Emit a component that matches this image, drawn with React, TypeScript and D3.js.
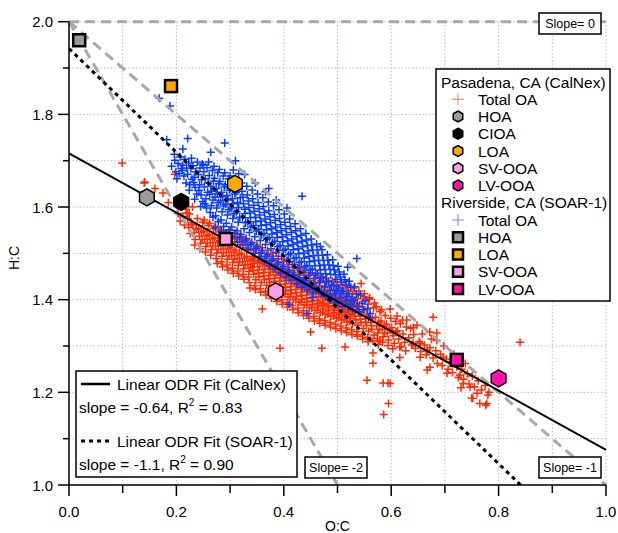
import React from "react";
import * as d3 from "d3";

// ---------- data ----------
const xTicks = [0, 0.1, 0.2, 0.3, 0.4, 0.5, 0.6, 0.7, 0.8, 0.9, 1.0];
const yTicks = [1.0, 1.1, 1.2, 1.3, 1.4, 1.5, 1.6, 1.7, 1.8, 1.9, 2.0];
const xTickLabels = ["0.0", "0.2", "0.4", "0.6", "0.8", "1.0"];
const yTickLabels = ["1.0", "1.2", "1.4", "1.6", "1.8", "2.0"];

// CalNex factors (hexagons)
const calnexNames = ["HOA", "CIOA", "LOA", "SV-OOA", "LV-OOA"];
const calnexOC = [0.145, 0.209, 0.309, 0.385, 0.8];
const calnexHC = [1.621, 1.611, 1.65, 1.418, 1.23];
const calnexColors = ["#9a9a9a", "#000000", "#ffa800", "#ff9ee6", "#ff10a8"];

// SOAR-1 factors (squares)
const soarNames = ["HOA", "LOA", "SV-OOA", "LV-OOA"];
const soarOC = [0.019, 0.19, 0.292, 0.722];
const soarHC = [1.96, 1.861, 1.531, 1.27];
const soarColors = ["#9a9a9a", "#ffa800", "#ff9ee6", "#ff10a8"];

// fits: [intercept, slope]
const calnexFit = [1.716, -0.64];
const soarFit = [1.942, -1.12];
// reference lines: slope through (0,2)
const refSlopes = [0, -1, -2];

// CalNex Total OA (red crosses)
const calnexOA: [number, number][] = [
  [0.099,1.695],[0.14,1.652],[0.16,1.64],[0.175,1.63],[0.197,1.671],[0.141,1.654],[0.22,1.587],[0.21,1.6],[0.185,1.61],[0.23,1.6],
  [0.471,1.295],[0.514,1.298],[0.566,1.263],[0.594,1.22],[0.393,1.295],[0.84,1.308],[0.555,1.226],[0.586,1.152],[0.595,1.176],
  [0.75,1.187],[0.78,1.194],[0.765,1.176],[0.776,1.172],[0.73,1.21],[0.585,1.22],[0.616,1.275],[0.672,1.254],[0.654,1.306],
  [0.685,1.312],[0.641,1.34],[0.678,1.362],[0.672,1.33],[0.629,1.356],[0.641,1.306],[0.667,1.291],[0.685,1.328],[0.697,1.276],
  [0.704,1.241],[0.728,1.237],[0.734,1.219],[0.747,1.211],[0.76,1.198],[0.715,1.262],[0.667,1.248],[0.654,1.276],[0.616,1.298],
  [0.603,1.328],[0.566,1.285],[0.579,1.312],[0.598,1.219],[0.752,1.187],[0.778,1.176],[0.337,1.425],[0.36,1.38],[0.45,1.33],
  [0.203,1.586],[0.207,1.57],[0.212,1.58],[0.215,1.561],[0.218,1.595],
  [0.221,1.575],[0.223,1.556],[0.226,1.543],[0.228,1.566],[0.224,1.585],
  [0.231,1.562],[0.233,1.545],[0.235,1.53],[0.237,1.552],[0.239,1.575],[0.234,1.518],
  [0.241,1.554],[0.243,1.537],[0.245,1.522],[0.247,1.545],[0.249,1.567],[0.244,1.51],[0.248,1.53],
  [0.251,1.548],[0.253,1.53],[0.255,1.515],[0.257,1.538],[0.259,1.56],[0.254,1.503],[0.258,1.523],[0.252,1.572],
  [0.261,1.541],[0.263,1.523],[0.265,1.508],[0.267,1.531],[0.269,1.553],[0.264,1.496],[0.268,1.516],[0.262,1.565],
  [0.271,1.534],[0.273,1.516],[0.275,1.501],[0.277,1.524],[0.279,1.546],[0.274,1.489],[0.278,1.509],[0.272,1.558],[0.276,1.478],
  [0.281,1.527],[0.283,1.509],[0.285,1.494],[0.287,1.517],[0.289,1.539],[0.284,1.482],[0.288,1.502],[0.282,1.551],[0.286,1.471],
  [0.291,1.52],[0.293,1.502],[0.295,1.487],[0.297,1.51],[0.299,1.532],[0.294,1.475],[0.298,1.495],[0.292,1.544],[0.296,1.464],
  [0.301,1.513],[0.303,1.495],[0.305,1.48],[0.307,1.503],[0.309,1.525],[0.304,1.468],[0.308,1.488],[0.302,1.537],[0.306,1.457],[0.3,1.55],
  [0.311,1.507],[0.313,1.489],[0.315,1.474],[0.317,1.497],[0.319,1.519],[0.314,1.462],[0.318,1.482],[0.312,1.531],[0.316,1.451],[0.31,1.544],
  [0.321,1.5],[0.323,1.482],[0.325,1.467],[0.327,1.49],[0.329,1.512],[0.324,1.455],[0.328,1.475],[0.322,1.524],[0.326,1.444],[0.32,1.537],
  [0.331,1.494],[0.333,1.476],[0.335,1.461],[0.337,1.484],[0.339,1.506],[0.334,1.449],[0.338,1.469],[0.332,1.518],[0.336,1.437],[0.33,1.53],
  [0.341,1.488],[0.342,1.47],[0.344,1.455],[0.345,1.478],[0.347,1.5],[0.348,1.443],[0.343,1.463],[0.349,1.512],[0.346,1.43],[0.34,1.524],[0.347,1.422],[0.344,1.492],
  [0.351,1.482],[0.352,1.464],[0.354,1.449],[0.355,1.472],[0.357,1.494],[0.358,1.437],[0.353,1.457],[0.359,1.506],[0.356,1.424],[0.35,1.518],[0.357,1.416],[0.354,1.486],
  [0.361,1.477],[0.362,1.458],[0.364,1.443],[0.365,1.466],[0.367,1.489],[0.368,1.431],[0.363,1.451],[0.369,1.5],[0.366,1.418],[0.36,1.512],[0.367,1.41],[0.364,1.48],
  [0.371,1.471],[0.372,1.452],[0.374,1.437],[0.375,1.46],[0.377,1.483],[0.378,1.425],[0.373,1.445],[0.379,1.494],[0.376,1.412],[0.37,1.506],[0.377,1.403],[0.374,1.474],[0.379,1.465],
  [0.381,1.465],[0.382,1.446],[0.384,1.431],[0.385,1.454],[0.387,1.477],[0.388,1.419],[0.383,1.439],[0.389,1.488],[0.386,1.406],[0.38,1.5],[0.387,1.396],[0.384,1.468],[0.389,1.459],
  [0.391,1.459],[0.392,1.44],[0.394,1.425],[0.395,1.448],[0.397,1.471],[0.398,1.413],[0.393,1.433],[0.399,1.482],[0.396,1.4],[0.39,1.494],[0.397,1.39],[0.394,1.462],[0.399,1.453],
  [0.401,1.453],[0.402,1.434],[0.404,1.419],[0.405,1.442],[0.407,1.465],[0.408,1.407],[0.403,1.427],[0.409,1.476],[0.406,1.394],[0.4,1.488],[0.407,1.384],[0.404,1.456],[0.409,1.447],[0.402,1.412],
  [0.411,1.447],[0.412,1.428],[0.414,1.413],[0.415,1.436],[0.417,1.459],[0.418,1.401],[0.413,1.421],[0.419,1.47],[0.416,1.388],[0.41,1.482],[0.417,1.378],[0.414,1.45],[0.419,1.441],[0.412,1.406],
  [0.421,1.441],[0.422,1.422],[0.424,1.407],[0.425,1.43],[0.427,1.453],[0.428,1.395],[0.423,1.415],[0.429,1.464],[0.426,1.382],[0.42,1.476],[0.427,1.372],[0.424,1.444],[0.429,1.435],[0.422,1.4],
  [0.431,1.435],[0.432,1.416],[0.434,1.401],[0.435,1.424],[0.437,1.447],[0.438,1.389],[0.433,1.409],[0.439,1.458],[0.436,1.376],[0.43,1.47],[0.437,1.366],[0.434,1.438],[0.439,1.429],[0.432,1.394],
  [0.441,1.429],[0.442,1.41],[0.444,1.395],[0.445,1.418],[0.447,1.441],[0.448,1.383],[0.443,1.403],[0.449,1.452],[0.446,1.37],[0.44,1.464],[0.447,1.36],[0.444,1.432],[0.449,1.423],[0.442,1.388],
  [0.451,1.423],[0.452,1.404],[0.454,1.389],[0.455,1.412],[0.457,1.435],[0.458,1.377],[0.453,1.397],[0.459,1.446],[0.456,1.364],[0.45,1.458],[0.457,1.354],[0.454,1.426],[0.459,1.417],[0.452,1.382],
  [0.461,1.418],[0.462,1.399],[0.464,1.384],[0.465,1.407],[0.467,1.43],[0.468,1.372],[0.463,1.392],[0.469,1.441],[0.466,1.359],[0.46,1.453],[0.467,1.349],[0.464,1.421],[0.469,1.412],[0.462,1.377],
  [0.471,1.414],[0.472,1.395],[0.474,1.38],[0.475,1.403],[0.477,1.426],[0.478,1.368],[0.473,1.388],[0.479,1.437],[0.476,1.355],[0.47,1.449],[0.477,1.345],[0.474,1.417],[0.479,1.408],[0.472,1.373],
  [0.481,1.41],[0.482,1.391],[0.484,1.376],[0.485,1.399],[0.487,1.422],[0.488,1.364],[0.483,1.384],[0.489,1.433],[0.486,1.351],[0.48,1.445],[0.487,1.341],[0.484,1.413],[0.489,1.404],[0.482,1.369],
  [0.491,1.406],[0.492,1.387],[0.494,1.372],[0.495,1.395],[0.497,1.418],[0.498,1.36],[0.493,1.38],[0.499,1.429],[0.496,1.347],[0.49,1.441],[0.497,1.337],[0.494,1.409],[0.499,1.4],[0.492,1.365],
  [0.501,1.402],[0.502,1.383],[0.504,1.368],[0.505,1.391],[0.507,1.414],[0.508,1.356],[0.503,1.376],[0.509,1.425],[0.506,1.343],[0.5,1.437],[0.507,1.333],[0.504,1.405],[0.509,1.396],[0.502,1.361],
  [0.511,1.398],[0.512,1.379],[0.514,1.364],[0.515,1.387],[0.517,1.41],[0.518,1.352],[0.513,1.372],[0.519,1.421],[0.516,1.339],[0.51,1.433],[0.517,1.329],[0.514,1.401],[0.519,1.392],[0.512,1.357],
  [0.521,1.394],[0.522,1.375],[0.524,1.36],[0.525,1.383],[0.527,1.406],[0.528,1.348],[0.523,1.368],[0.529,1.417],[0.526,1.335],[0.52,1.429],[0.527,1.325],[0.524,1.397],[0.529,1.388],[0.522,1.353],
  [0.531,1.39],[0.532,1.371],[0.534,1.356],[0.535,1.379],[0.537,1.402],[0.538,1.344],[0.533,1.364],[0.539,1.413],[0.536,1.331],[0.53,1.425],[0.537,1.321],[0.534,1.393],[0.539,1.384],
  [0.541,1.384],[0.542,1.365],[0.544,1.35],[0.545,1.373],[0.547,1.396],[0.548,1.338],[0.543,1.358],[0.549,1.407],[0.546,1.325],[0.54,1.419],[0.547,1.315],[0.544,1.435],
  [0.551,1.378],[0.552,1.359],[0.554,1.344],[0.555,1.367],[0.557,1.39],[0.558,1.332],[0.553,1.352],[0.559,1.401],[0.556,1.319],[0.55,1.413],[0.557,1.309],
  [0.561,1.37],[0.562,1.351],[0.564,1.336],[0.565,1.359],[0.567,1.382],[0.568,1.324],[0.563,1.344],[0.569,1.393],[0.566,1.311],[0.56,1.404],
  [0.571,1.362],[0.573,1.343],[0.575,1.328],[0.577,1.351],[0.579,1.374],[0.574,1.316],[0.578,1.336],[0.572,1.385],[0.576,1.303],
  [0.581,1.354],[0.583,1.335],[0.585,1.32],[0.587,1.343],[0.589,1.366],[0.584,1.308],[0.588,1.328],[0.582,1.378],
  [0.591,1.347],[0.593,1.328],[0.595,1.313],[0.597,1.336],[0.599,1.36],[0.594,1.301],[0.598,1.38],
  [0.601,1.34],[0.604,1.322],[0.606,1.306],[0.608,1.353],[0.603,1.294],[0.609,1.33],
  [0.612,1.333],[0.614,1.315],[0.617,1.348],[0.619,1.299],[0.611,1.365],
  [0.622,1.326],[0.625,1.308],[0.628,1.341],[0.627,1.29],[0.621,1.356],
  [0.633,1.318],[0.636,1.338],[0.638,1.302],[0.642,1.325],[0.645,1.295],[0.648,1.345],
  [0.652,1.31],[0.655,1.288],[0.658,1.326],[0.662,1.302],[0.665,1.281],
  [0.672,1.296],[0.675,1.315],[0.678,1.274],[0.683,1.29],[0.686,1.262],
  [0.692,1.282],[0.695,1.258],[0.698,1.3],[0.703,1.272],[0.706,1.25],
  [0.711,1.266],[0.714,1.243],[0.717,1.282],[0.722,1.255],[0.725,1.232],
  [0.731,1.25],[0.735,1.228],[0.738,1.262],[0.742,1.24],[0.745,1.218],
  [0.751,1.235],[0.755,1.212],[0.762,1.225],[0.768,1.205],[0.775,1.215],[0.782,1.2],
];

// SOAR-1 Total OA (blue crosses)
const soarOA: [number, number][] = [
  [0.168,1.835],[0.188,1.818],[0.221,1.748],[0.264,1.718],[0.29,1.738],[0.196,1.714],[0.434,1.623],[0.536,1.489],[0.519,1.47],
  [0.495,1.414],[0.182,1.745],[0.212,1.725],[0.31,1.7],[0.372,1.64],[0.468,1.515],[0.443,1.37],[0.454,1.405],[0.41,1.39],
  [0.191,1.688],[0.197,1.701],[0.199,1.676],
  [0.203,1.694],[0.205,1.672],[0.207,1.708],[0.209,1.683],[0.201,1.661],
  [0.212,1.69],[0.214,1.667],[0.216,1.703],[0.218,1.652],[0.211,1.679],[0.219,1.684],
  [0.221,1.671],[0.223,1.695],[0.225,1.648],[0.227,1.683],[0.229,1.66],[0.224,1.636],[0.228,1.705],
  [0.231,1.689],[0.233,1.664],[0.235,1.642],[0.236,1.676],[0.238,1.628],[0.232,1.653],[0.239,1.697],[0.234,1.617],
  [0.241,1.67],[0.243,1.648],[0.244,1.684],[0.246,1.626],[0.247,1.659],[0.249,1.612],[0.242,1.636],[0.248,1.693],[0.245,1.601],
  [0.251,1.676],[0.252,1.643],[0.254,1.661],[0.255,1.618],[0.257,1.685],[0.258,1.632],[0.256,1.598],[0.253,1.607],[0.259,1.652],[0.25,1.69],
  [0.261,1.668],[0.262,1.627],[0.264,1.645],[0.265,1.603],[0.267,1.679],[0.268,1.615],[0.263,1.588],[0.269,1.656],[0.266,1.634],[0.26,1.697],[0.268,1.578],
  [0.271,1.662],[0.272,1.621],[0.274,1.64],[0.275,1.598],[0.277,1.674],[0.278,1.609],[0.273,1.581],[0.279,1.65],[0.276,1.629],[0.27,1.688],[0.278,1.568],[0.273,1.556],
  [0.281,1.655],[0.282,1.613],[0.284,1.632],[0.285,1.59],[0.287,1.667],[0.288,1.602],[0.283,1.572],[0.289,1.643],[0.286,1.622],[0.28,1.681],[0.288,1.558],[0.284,1.548],
  [0.291,1.648],[0.292,1.606],[0.294,1.625],[0.295,1.583],[0.297,1.661],[0.298,1.594],[0.293,1.565],[0.299,1.636],[0.296,1.615],[0.29,1.674],[0.298,1.551],[0.294,1.541],
  [0.301,1.64],[0.302,1.598],[0.304,1.618],[0.305,1.575],[0.307,1.653],[0.308,1.586],[0.303,1.557],[0.309,1.628],[0.306,1.607],[0.3,1.667],[0.308,1.543],[0.304,1.533],[0.306,1.68],
  [0.311,1.632],[0.312,1.59],[0.314,1.61],[0.315,1.567],[0.317,1.645],[0.318,1.578],[0.313,1.549],[0.319,1.62],[0.316,1.599],[0.31,1.659],[0.318,1.535],[0.314,1.525],[0.316,1.672],
  [0.321,1.652],[0.322,1.634],[0.324,1.621],[0.325,1.607],[0.327,1.595],[0.328,1.586],[0.323,1.577],[0.329,1.566],[0.326,1.553],[0.32,1.541],[0.328,1.528],[0.324,1.518],[0.327,1.67],
  [0.331,1.645],[0.332,1.626],[0.334,1.613],[0.335,1.599],[0.337,1.587],[0.338,1.577],[0.333,1.568],[0.339,1.557],[0.336,1.545],[0.33,1.532],[0.338,1.519],[0.334,1.509],
  [0.341,1.637],[0.342,1.618],[0.344,1.604],[0.345,1.591],[0.347,1.578],[0.348,1.568],[0.343,1.56],[0.349,1.548],[0.346,1.536],[0.34,1.523],[0.348,1.51],[0.344,1.5],[0.347,1.652],
  [0.351,1.628],[0.352,1.61],[0.354,1.596],[0.355,1.583],[0.357,1.57],[0.358,1.56],[0.353,1.552],[0.359,1.54],[0.356,1.528],[0.35,1.515],[0.358,1.502],[0.354,1.492],
  [0.361,1.62],[0.362,1.601],[0.364,1.588],[0.365,1.574],[0.367,1.562],[0.368,1.551],[0.363,1.543],[0.369,1.531],[0.366,1.519],[0.36,1.506],[0.368,1.493],[0.364,1.483],[0.366,1.633],
  [0.371,1.611],[0.372,1.592],[0.374,1.579],[0.375,1.566],[0.377,1.553],[0.378,1.542],[0.373,1.534],[0.379,1.523],[0.376,1.51],[0.37,1.497],[0.378,1.485],[0.374,1.474],
  [0.381,1.603],[0.382,1.584],[0.384,1.571],[0.385,1.557],[0.387,1.545],[0.388,1.534],[0.383,1.526],[0.389,1.514],[0.386,1.502],[0.38,1.489],[0.388,1.476],[0.384,1.466],[0.386,1.615],
  [0.391,1.594],[0.392,1.575],[0.394,1.562],[0.395,1.549],[0.397,1.536],[0.398,1.525],[0.393,1.517],[0.399,1.506],[0.396,1.493],[0.39,1.48],[0.398,1.468],[0.394,1.457],
  [0.401,1.585],[0.402,1.567],[0.404,1.553],[0.405,1.54],[0.407,1.527],[0.408,1.516],[0.403,1.509],[0.409,1.497],[0.406,1.485],[0.4,1.472],[0.408,1.459],[0.404,1.449],[0.406,1.598],
  [0.411,1.574],[0.412,1.558],[0.414,1.545],[0.415,1.531],[0.417,1.519],[0.418,1.508],[0.413,1.5],[0.419,1.489],[0.416,1.476],[0.41,1.463],[0.418,1.451],[0.414,1.442],
  [0.421,1.564],[0.422,1.549],[0.424,1.536],[0.425,1.523],[0.427,1.51],[0.428,1.499],[0.423,1.491],[0.429,1.48],[0.426,1.468],[0.42,1.455],[0.428,1.443],[0.424,1.434],
  [0.431,1.553],[0.432,1.539],[0.434,1.526],[0.435,1.514],[0.437,1.501],[0.438,1.49],[0.433,1.482],[0.439,1.471],[0.436,1.46],[0.43,1.447],[0.438,1.436],[0.434,1.427],
  [0.441,1.543],[0.442,1.529],[0.444,1.517],[0.445,1.505],[0.447,1.493],[0.448,1.482],[0.443,1.474],[0.449,1.464],[0.446,1.453],[0.44,1.441],[0.448,1.43],[0.444,1.421],
  [0.451,1.531],[0.452,1.518],[0.454,1.507],[0.455,1.495],[0.457,1.484],[0.458,1.473],[0.453,1.466],[0.459,1.456],[0.456,1.445],[0.45,1.434],[0.458,1.423],[0.454,1.415],
  [0.461,1.52],[0.462,1.507],[0.464,1.496],[0.465,1.485],[0.467,1.474],[0.468,1.464],[0.463,1.457],[0.469,1.447],[0.466,1.437],[0.46,1.426],[0.468,1.414],
  [0.471,1.508],[0.472,1.496],[0.474,1.485],[0.475,1.475],[0.477,1.465],[0.478,1.456],[0.473,1.448],[0.479,1.438],[0.476,1.428],[0.47,1.418],[0.478,1.407],
  [0.481,1.497],[0.482,1.485],[0.484,1.475],[0.486,1.465],[0.487,1.455],[0.483,1.44],[0.489,1.43],[0.486,1.42],[0.48,1.41],[0.488,1.4],
  [0.491,1.486],[0.492,1.474],[0.494,1.464],[0.496,1.454],[0.497,1.444],[0.493,1.431],[0.499,1.421],[0.496,1.412],[0.49,1.402],[0.498,1.393],
  [0.501,1.472],[0.503,1.46],[0.505,1.449],[0.507,1.438],[0.502,1.425],[0.508,1.414],[0.505,1.404],[0.5,1.395],[0.509,1.386],
  [0.512,1.455],[0.514,1.443],[0.516,1.431],[0.511,1.418],[0.518,1.407],[0.515,1.397],[0.519,1.385],
  [0.522,1.44],[0.525,1.427],[0.521,1.413],[0.527,1.401],[0.524,1.39],[0.528,1.379],
  [0.532,1.428],[0.535,1.412],[0.531,1.398],[0.537,1.386],[0.539,1.374],
  [0.543,1.41],[0.546,1.392],[0.548,1.378],[0.552,1.398],[0.556,1.381],[0.561,1.37],[0.558,1.362],
];

// ---------- layout ----------
const W = 618;
const H = 533;
const X0 = 69, X1 = 606, Y0 = 485, Y1 = 21.7;
const FONT = "'Liberation Sans', Arial, sans-serif";

const x = d3.scaleLinear().domain([0, 1]).range([X0, X1]);
const y = d3.scaleLinear().domain([1, 2]).range([Y0, Y1]);

function crossPath(pts: [number, number][], r: number) {
  return pts
    .map(([a, b]) => {
      const px = x(a), py = y(b);
      return `M${px - r},${py}h${2 * r}M${px},${py - r}v${2 * r}`;
    })
    .join("");
}

function hexPath(cx: number, cy: number, r: number) {
  const pts = d3.range(6).map((i) => {
    const ang = (Math.PI / 3) * i - Math.PI / 2;
    return [cx + r * Math.cos(ang), cy + r * Math.sin(ang)];
  });
  return "M" + pts.map((p) => p.join(",")).join("L") + "Z";
}

// clip a line H = a + b*OC to the plot box
function fitSegment(a: number, b: number) {
  let xe = 1;
  let ye = a + b * xe;
  if (ye < 1) { xe = (1 - a) / b; ye = 1; }
  return [[0, a], [xe, ye]];
}

function refSegment(s: number) {
  if (s === 0) return [[0, 2], [1, 2]];
  const xe = Math.min(1, -1 / s);
  return [[0, 2], [xe, 2 + s * xe]];
}

const line = d3.line<number[]>().x((d) => x(d[0])).y((d) => y(d[1]));

export default function App() {
  const calSeg = fitSegment(calnexFit[0], calnexFit[1]);
  const soarSeg = fitSegment(soarFit[0], soarFit[1]);
  const legRowY = (i: number) => 82 + i * 17.25;
  const legItems: { kind: string; label: string; color?: string }[] = [
    { kind: "header", label: "Pasadena, CA (CalNex)" },
    { kind: "crossR", label: "Total OA" },
    ...calnexNames.map((n, i) => ({ kind: "hex", label: n, color: calnexColors[i] })),
    { kind: "header", label: "Riverside, CA (SOAR-1)" },
    { kind: "crossB", label: "Total OA" },
    ...soarNames.map((n, i) => ({ kind: "sq", label: n, color: soarColors[i] })),
  ];

  return (
    <svg width={W} height={H} style={{ position: "absolute", left: 0, top: 0, background: "#fff" }} fontFamily={FONT}>
      <defs>
        <clipPath id="plotclip">
          <rect x={X0} y={Y1 - 2} width={X1 - X0 + 2} height={Y0 - Y1 + 2} />
        </clipPath>
      </defs>
      {/* grid */}
      <g stroke="#aab4f5" strokeWidth={1} strokeDasharray="1.5,2">
        {xTicks.map((t) => (
          <line key={"gx" + t} x1={x(t)} x2={x(t)} y1={Y0} y2={Y1} />
        ))}
        {yTicks.map((t) => (
          <line key={"gy" + t} x1={X0} x2={X1} y1={y(t)} y2={y(t)} />
        ))}
      </g>

      {/* scatter */}
      <path d={crossPath(calnexOA, 4)} stroke="#ff2a00" strokeWidth={1.5} fill="none" />
      <path d={crossPath(soarOA, 4)} stroke="#0a3cff" strokeWidth={1.5} fill="none" />

      {/* reference slope lines and fits */}
      <g clipPath="url(#plotclip)">
        {refSlopes.map((s) => (
          <path key={"ref" + s} d={line(refSegment(s)) || ""} stroke="#a8a8a8" strokeWidth={3} strokeDasharray="10,6" fill="none" />
        ))}
        <path d={line(calSeg) || ""} stroke="#000" strokeWidth={2} fill="none" />
        <path d={line(soarSeg) || ""} stroke="#000" strokeWidth={3} strokeDasharray="4,4" fill="none" />
      </g>

      {/* factor markers */}
      {calnexOC.map((oc, i) => (
        <path key={"hx" + i} d={hexPath(x(oc), y(calnexHC[i]), 8.5)} fill={calnexColors[i]} stroke="#000" strokeWidth={1.5} />
      ))}
      {soarOC.map((oc, i) => (
        <rect key={"sq" + i} x={x(oc) - 6} y={y(soarHC[i]) - 6} width={12} height={12} fill={soarColors[i]} stroke="#000" strokeWidth={2.5} />
      ))}

      {/* slope labels */}
      {[
        { t: "Slope= 0", x0: 539, y0: 13 },
        { t: "Slope= -2", x0: 305, y0: 457 },
        { t: "Slope= -1", x0: 539, y0: 457 },
      ].map((b) => (
        <g key={b.t}>
          <rect x={b.x0} y={b.y0} width={62} height={21} fill="#fff" stroke="#000" strokeWidth={1.5} />
          <text x={b.x0 + 31} y={b.y0 + 15} fontSize={12.5} textAnchor="middle" fill="#000">{b.t}</text>
        </g>
      ))}

      {/* axes */}
      <g stroke="#000" strokeWidth={1.5}>
        <line x1={X0} x2={X0} y1={Y1} y2={Y0 + 1} />
        <line x1={X0} x2={X1} y1={Y0} y2={Y0} />
        {xTicks.map((t, i) => (
          <line key={"tx" + t} x1={x(t)} x2={x(t)} y1={Y0} y2={Y0 + (i % 2 === 0 ? 11 : 8)} />
        ))}
        {yTicks.map((t, i) => (
          <line key={"ty" + t} x1={X0} x2={X0 - (i % 2 === 0 ? 11 : 6)} y1={y(t)} y2={y(t)} />
        ))}
      </g>
      {xTickLabels.map((l) => (
        <text key={"xl" + l} x={x(+l)} y={517} fontSize={15} textAnchor="middle" fill="#000">{l}</text>
      ))}
      {yTickLabels.map((l) => (
        <text key={"yl" + l} x={53} y={y(+l) + 5.5} fontSize={15} textAnchor="end" fill="#000">{l}</text>
      ))}
      <text x={(X0 + X1) / 2} y={531} fontSize={14} textAnchor="middle">O:C</text>
      <text transform={`translate(19,258) rotate(-90)`} fontSize={14} textAnchor="middle">H:C</text>

      {/* legend 1 */}
      <rect x={436} y={69} width={174} height={232} fill="#fff" stroke="#000" strokeWidth={1.5} />
      {legItems.map((it, i) => {
        const cy = legRowY(i);
        const sx = 458;
        let sym: React.ReactNode = null;
        if (it.kind === "crossR" || it.kind === "crossB") {
          sym = (
            <path d={`M${sx - 6},${cy}h12M${sx},${cy - 6}v12`} stroke={it.kind === "crossR" ? "#ff7a60" : "#6a86ff"} strokeWidth={1} />
          );
        } else if (it.kind === "hex") {
          sym = <path d={hexPath(sx, cy, 5.5)} fill={it.color} stroke="#000" strokeWidth={1.5} />;
        } else if (it.kind === "sq") {
          sym = <rect x={sx - 5} y={cy - 5} width={10} height={10} fill={it.color} stroke="#000" strokeWidth={2.5} />;
        }
        return (
          <g key={"leg" + i}>
            {sym}
            <text x={it.kind === "header" ? 441 : 478} y={cy + 5.5} fontSize={15.5} fill="#000">{it.label}</text>
          </g>
        );
      })}

      {/* legend 2 */}
      <rect x={76} y={371} width={221} height={106} fill="#fff" stroke="#000" strokeWidth={1.5} />
      <line x1={81} x2={110} y1={384} y2={384} stroke="#000" strokeWidth={2.5} />
      <text x={117} y={389.5} fontSize={15.5}>Linear ODR Fit (CalNex)</text>
      <text x={79} y={412.5} fontSize={15.5}>
        slope = -0.64, R<tspan dy={-7} fontSize={10}>2</tspan><tspan dy={7}> = 0.83</tspan>
      </text>
      <line x1={81} x2={110} y1={441} y2={441} stroke="#000" strokeWidth={3} strokeDasharray="4,4" />
      <text x={117} y={446.5} fontSize={15.5}>Linear ODR Fit (SOAR-1)</text>
      <text x={79} y={469.5} fontSize={15.5}>
        slope = -1.1, R<tspan dy={-7} fontSize={10}>2</tspan><tspan dy={7}> = 0.90</tspan>
      </text>
    </svg>
  );
}
